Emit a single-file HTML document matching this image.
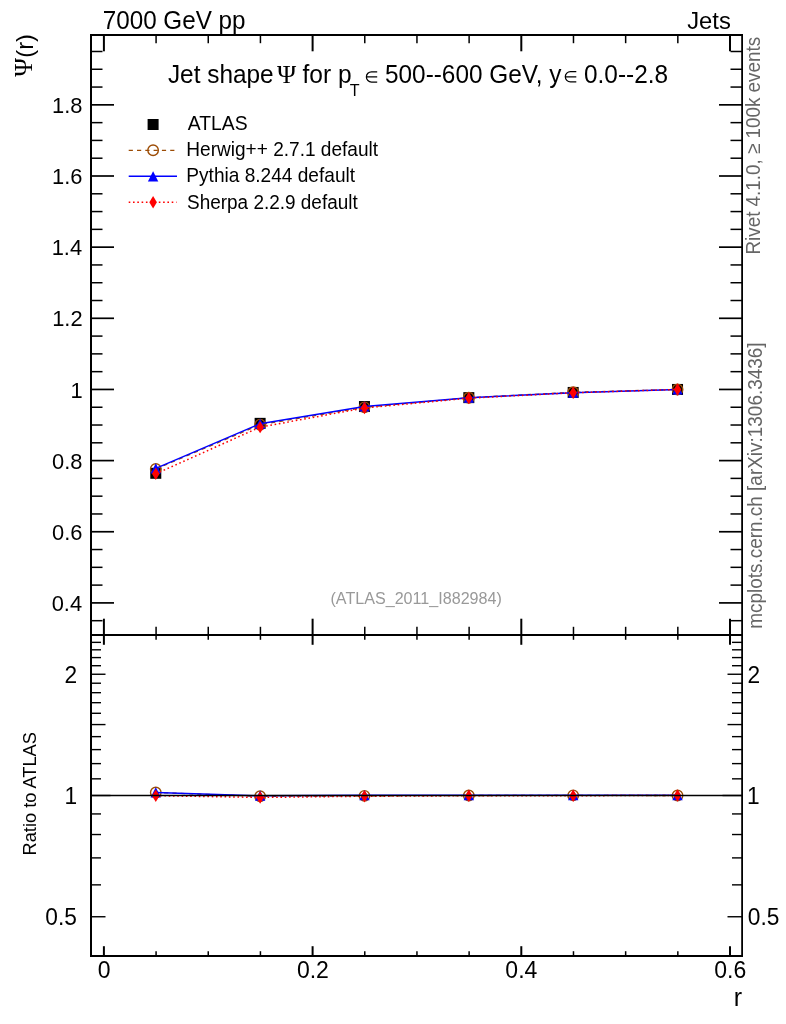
<!DOCTYPE html><html><head><meta charset="utf-8"><title>plot</title><style>html,body{margin:0;padding:0;background:#fff}svg{display:block;will-change:transform}text{font-family:"Liberation Sans",sans-serif}.s{font-family:"Liberation Serif",serif}</style></head><body>
<svg width="786" height="1024" viewBox="0 0 786 1024">
<rect width="786" height="1024" fill="#fff"/>
<line x1="91.00" y1="620.69" x2="102.50" y2="620.69" stroke="#000" stroke-width="1.5" />
<line x1="742.00" y1="620.69" x2="730.50" y2="620.69" stroke="#000" stroke-width="1.5" />
<line x1="91.00" y1="602.90" x2="114.00" y2="602.90" stroke="#000" stroke-width="1.7" />
<line x1="742.00" y1="602.90" x2="719.00" y2="602.90" stroke="#000" stroke-width="1.7" />
<line x1="91.00" y1="585.11" x2="102.50" y2="585.11" stroke="#000" stroke-width="1.5" />
<line x1="742.00" y1="585.11" x2="730.50" y2="585.11" stroke="#000" stroke-width="1.5" />
<line x1="91.00" y1="567.33" x2="102.50" y2="567.33" stroke="#000" stroke-width="1.5" />
<line x1="742.00" y1="567.33" x2="730.50" y2="567.33" stroke="#000" stroke-width="1.5" />
<line x1="91.00" y1="549.54" x2="102.50" y2="549.54" stroke="#000" stroke-width="1.5" />
<line x1="742.00" y1="549.54" x2="730.50" y2="549.54" stroke="#000" stroke-width="1.5" />
<line x1="91.00" y1="531.75" x2="114.00" y2="531.75" stroke="#000" stroke-width="1.7" />
<line x1="742.00" y1="531.75" x2="719.00" y2="531.75" stroke="#000" stroke-width="1.7" />
<line x1="91.00" y1="513.96" x2="102.50" y2="513.96" stroke="#000" stroke-width="1.5" />
<line x1="742.00" y1="513.96" x2="730.50" y2="513.96" stroke="#000" stroke-width="1.5" />
<line x1="91.00" y1="496.17" x2="102.50" y2="496.17" stroke="#000" stroke-width="1.5" />
<line x1="742.00" y1="496.17" x2="730.50" y2="496.17" stroke="#000" stroke-width="1.5" />
<line x1="91.00" y1="478.39" x2="102.50" y2="478.39" stroke="#000" stroke-width="1.5" />
<line x1="742.00" y1="478.39" x2="730.50" y2="478.39" stroke="#000" stroke-width="1.5" />
<line x1="91.00" y1="460.60" x2="114.00" y2="460.60" stroke="#000" stroke-width="1.7" />
<line x1="742.00" y1="460.60" x2="719.00" y2="460.60" stroke="#000" stroke-width="1.7" />
<line x1="91.00" y1="442.81" x2="102.50" y2="442.81" stroke="#000" stroke-width="1.5" />
<line x1="742.00" y1="442.81" x2="730.50" y2="442.81" stroke="#000" stroke-width="1.5" />
<line x1="91.00" y1="425.02" x2="102.50" y2="425.02" stroke="#000" stroke-width="1.5" />
<line x1="742.00" y1="425.02" x2="730.50" y2="425.02" stroke="#000" stroke-width="1.5" />
<line x1="91.00" y1="407.24" x2="102.50" y2="407.24" stroke="#000" stroke-width="1.5" />
<line x1="742.00" y1="407.24" x2="730.50" y2="407.24" stroke="#000" stroke-width="1.5" />
<line x1="91.00" y1="389.45" x2="114.00" y2="389.45" stroke="#000" stroke-width="1.7" />
<line x1="742.00" y1="389.45" x2="719.00" y2="389.45" stroke="#000" stroke-width="1.7" />
<line x1="91.00" y1="371.66" x2="102.50" y2="371.66" stroke="#000" stroke-width="1.5" />
<line x1="742.00" y1="371.66" x2="730.50" y2="371.66" stroke="#000" stroke-width="1.5" />
<line x1="91.00" y1="353.87" x2="102.50" y2="353.87" stroke="#000" stroke-width="1.5" />
<line x1="742.00" y1="353.87" x2="730.50" y2="353.87" stroke="#000" stroke-width="1.5" />
<line x1="91.00" y1="336.09" x2="102.50" y2="336.09" stroke="#000" stroke-width="1.5" />
<line x1="742.00" y1="336.09" x2="730.50" y2="336.09" stroke="#000" stroke-width="1.5" />
<line x1="91.00" y1="318.30" x2="114.00" y2="318.30" stroke="#000" stroke-width="1.7" />
<line x1="742.00" y1="318.30" x2="719.00" y2="318.30" stroke="#000" stroke-width="1.7" />
<line x1="91.00" y1="300.51" x2="102.50" y2="300.51" stroke="#000" stroke-width="1.5" />
<line x1="742.00" y1="300.51" x2="730.50" y2="300.51" stroke="#000" stroke-width="1.5" />
<line x1="91.00" y1="282.72" x2="102.50" y2="282.72" stroke="#000" stroke-width="1.5" />
<line x1="742.00" y1="282.72" x2="730.50" y2="282.72" stroke="#000" stroke-width="1.5" />
<line x1="91.00" y1="264.94" x2="102.50" y2="264.94" stroke="#000" stroke-width="1.5" />
<line x1="742.00" y1="264.94" x2="730.50" y2="264.94" stroke="#000" stroke-width="1.5" />
<line x1="91.00" y1="247.15" x2="114.00" y2="247.15" stroke="#000" stroke-width="1.7" />
<line x1="742.00" y1="247.15" x2="719.00" y2="247.15" stroke="#000" stroke-width="1.7" />
<line x1="91.00" y1="229.36" x2="102.50" y2="229.36" stroke="#000" stroke-width="1.5" />
<line x1="742.00" y1="229.36" x2="730.50" y2="229.36" stroke="#000" stroke-width="1.5" />
<line x1="91.00" y1="211.57" x2="102.50" y2="211.57" stroke="#000" stroke-width="1.5" />
<line x1="742.00" y1="211.57" x2="730.50" y2="211.57" stroke="#000" stroke-width="1.5" />
<line x1="91.00" y1="193.79" x2="102.50" y2="193.79" stroke="#000" stroke-width="1.5" />
<line x1="742.00" y1="193.79" x2="730.50" y2="193.79" stroke="#000" stroke-width="1.5" />
<line x1="91.00" y1="176.00" x2="114.00" y2="176.00" stroke="#000" stroke-width="1.7" />
<line x1="742.00" y1="176.00" x2="719.00" y2="176.00" stroke="#000" stroke-width="1.7" />
<line x1="91.00" y1="158.21" x2="102.50" y2="158.21" stroke="#000" stroke-width="1.5" />
<line x1="742.00" y1="158.21" x2="730.50" y2="158.21" stroke="#000" stroke-width="1.5" />
<line x1="91.00" y1="140.42" x2="102.50" y2="140.42" stroke="#000" stroke-width="1.5" />
<line x1="742.00" y1="140.42" x2="730.50" y2="140.42" stroke="#000" stroke-width="1.5" />
<line x1="91.00" y1="122.64" x2="102.50" y2="122.64" stroke="#000" stroke-width="1.5" />
<line x1="742.00" y1="122.64" x2="730.50" y2="122.64" stroke="#000" stroke-width="1.5" />
<line x1="91.00" y1="104.85" x2="114.00" y2="104.85" stroke="#000" stroke-width="1.7" />
<line x1="742.00" y1="104.85" x2="719.00" y2="104.85" stroke="#000" stroke-width="1.7" />
<line x1="91.00" y1="87.06" x2="102.50" y2="87.06" stroke="#000" stroke-width="1.5" />
<line x1="742.00" y1="87.06" x2="730.50" y2="87.06" stroke="#000" stroke-width="1.5" />
<line x1="91.00" y1="69.27" x2="102.50" y2="69.27" stroke="#000" stroke-width="1.5" />
<line x1="742.00" y1="69.27" x2="730.50" y2="69.27" stroke="#000" stroke-width="1.5" />
<line x1="91.00" y1="51.49" x2="102.50" y2="51.49" stroke="#000" stroke-width="1.5" />
<line x1="742.00" y1="51.49" x2="730.50" y2="51.49" stroke="#000" stroke-width="1.5" />
<line x1="103.90" y1="35.00" x2="103.90" y2="51.30" stroke="#000" stroke-width="2.0" />
<line x1="103.90" y1="635.00" x2="103.90" y2="618.70" stroke="#000" stroke-width="2.0" />
<line x1="103.90" y1="635.00" x2="103.90" y2="644.80" stroke="#000" stroke-width="2.0" />
<line x1="103.90" y1="956.00" x2="103.90" y2="946.20" stroke="#000" stroke-width="2.0" />
<line x1="156.08" y1="35.00" x2="156.08" y2="43.20" stroke="#000" stroke-width="1.5" />
<line x1="156.08" y1="635.00" x2="156.08" y2="626.80" stroke="#000" stroke-width="1.5" />
<line x1="156.08" y1="635.00" x2="156.08" y2="639.80" stroke="#000" stroke-width="1.5" />
<line x1="156.08" y1="956.00" x2="156.08" y2="951.20" stroke="#000" stroke-width="1.5" />
<line x1="208.25" y1="35.00" x2="208.25" y2="43.20" stroke="#000" stroke-width="1.5" />
<line x1="208.25" y1="635.00" x2="208.25" y2="626.80" stroke="#000" stroke-width="1.5" />
<line x1="208.25" y1="635.00" x2="208.25" y2="639.80" stroke="#000" stroke-width="1.5" />
<line x1="208.25" y1="956.00" x2="208.25" y2="951.20" stroke="#000" stroke-width="1.5" />
<line x1="260.43" y1="35.00" x2="260.43" y2="43.20" stroke="#000" stroke-width="1.5" />
<line x1="260.43" y1="635.00" x2="260.43" y2="626.80" stroke="#000" stroke-width="1.5" />
<line x1="260.43" y1="635.00" x2="260.43" y2="639.80" stroke="#000" stroke-width="1.5" />
<line x1="260.43" y1="956.00" x2="260.43" y2="951.20" stroke="#000" stroke-width="1.5" />
<line x1="312.60" y1="35.00" x2="312.60" y2="51.30" stroke="#000" stroke-width="2.0" />
<line x1="312.60" y1="635.00" x2="312.60" y2="618.70" stroke="#000" stroke-width="2.0" />
<line x1="312.60" y1="635.00" x2="312.60" y2="644.80" stroke="#000" stroke-width="2.0" />
<line x1="312.60" y1="956.00" x2="312.60" y2="946.20" stroke="#000" stroke-width="2.0" />
<line x1="364.77" y1="35.00" x2="364.77" y2="43.20" stroke="#000" stroke-width="1.5" />
<line x1="364.77" y1="635.00" x2="364.77" y2="626.80" stroke="#000" stroke-width="1.5" />
<line x1="364.77" y1="635.00" x2="364.77" y2="639.80" stroke="#000" stroke-width="1.5" />
<line x1="364.77" y1="956.00" x2="364.77" y2="951.20" stroke="#000" stroke-width="1.5" />
<line x1="416.95" y1="35.00" x2="416.95" y2="43.20" stroke="#000" stroke-width="1.5" />
<line x1="416.95" y1="635.00" x2="416.95" y2="626.80" stroke="#000" stroke-width="1.5" />
<line x1="416.95" y1="635.00" x2="416.95" y2="639.80" stroke="#000" stroke-width="1.5" />
<line x1="416.95" y1="956.00" x2="416.95" y2="951.20" stroke="#000" stroke-width="1.5" />
<line x1="469.12" y1="35.00" x2="469.12" y2="43.20" stroke="#000" stroke-width="1.5" />
<line x1="469.12" y1="635.00" x2="469.12" y2="626.80" stroke="#000" stroke-width="1.5" />
<line x1="469.12" y1="635.00" x2="469.12" y2="639.80" stroke="#000" stroke-width="1.5" />
<line x1="469.12" y1="956.00" x2="469.12" y2="951.20" stroke="#000" stroke-width="1.5" />
<line x1="521.30" y1="35.00" x2="521.30" y2="51.30" stroke="#000" stroke-width="2.0" />
<line x1="521.30" y1="635.00" x2="521.30" y2="618.70" stroke="#000" stroke-width="2.0" />
<line x1="521.30" y1="635.00" x2="521.30" y2="644.80" stroke="#000" stroke-width="2.0" />
<line x1="521.30" y1="956.00" x2="521.30" y2="946.20" stroke="#000" stroke-width="2.0" />
<line x1="573.48" y1="35.00" x2="573.48" y2="43.20" stroke="#000" stroke-width="1.5" />
<line x1="573.48" y1="635.00" x2="573.48" y2="626.80" stroke="#000" stroke-width="1.5" />
<line x1="573.48" y1="635.00" x2="573.48" y2="639.80" stroke="#000" stroke-width="1.5" />
<line x1="573.48" y1="956.00" x2="573.48" y2="951.20" stroke="#000" stroke-width="1.5" />
<line x1="625.65" y1="35.00" x2="625.65" y2="43.20" stroke="#000" stroke-width="1.5" />
<line x1="625.65" y1="635.00" x2="625.65" y2="626.80" stroke="#000" stroke-width="1.5" />
<line x1="625.65" y1="635.00" x2="625.65" y2="639.80" stroke="#000" stroke-width="1.5" />
<line x1="625.65" y1="956.00" x2="625.65" y2="951.20" stroke="#000" stroke-width="1.5" />
<line x1="677.83" y1="35.00" x2="677.83" y2="43.20" stroke="#000" stroke-width="1.5" />
<line x1="677.83" y1="635.00" x2="677.83" y2="626.80" stroke="#000" stroke-width="1.5" />
<line x1="677.83" y1="635.00" x2="677.83" y2="639.80" stroke="#000" stroke-width="1.5" />
<line x1="677.83" y1="956.00" x2="677.83" y2="951.20" stroke="#000" stroke-width="1.5" />
<line x1="730.00" y1="35.00" x2="730.00" y2="51.30" stroke="#000" stroke-width="2.0" />
<line x1="730.00" y1="635.00" x2="730.00" y2="618.70" stroke="#000" stroke-width="2.0" />
<line x1="730.00" y1="635.00" x2="730.00" y2="644.80" stroke="#000" stroke-width="2.0" />
<line x1="730.00" y1="956.00" x2="730.00" y2="946.20" stroke="#000" stroke-width="2.0" />
<line x1="91.00" y1="916.75" x2="105.50" y2="916.75" stroke="#000" stroke-width="1.4" />
<line x1="742.00" y1="916.75" x2="727.50" y2="916.75" stroke="#000" stroke-width="1.4" />
<line x1="91.00" y1="884.86" x2="101.00" y2="884.86" stroke="#000" stroke-width="1.4" />
<line x1="742.00" y1="884.86" x2="732.00" y2="884.86" stroke="#000" stroke-width="1.4" />
<line x1="91.00" y1="857.89" x2="101.00" y2="857.89" stroke="#000" stroke-width="1.4" />
<line x1="742.00" y1="857.89" x2="732.00" y2="857.89" stroke="#000" stroke-width="1.4" />
<line x1="91.00" y1="834.53" x2="101.00" y2="834.53" stroke="#000" stroke-width="1.4" />
<line x1="742.00" y1="834.53" x2="732.00" y2="834.53" stroke="#000" stroke-width="1.4" />
<line x1="91.00" y1="813.93" x2="101.00" y2="813.93" stroke="#000" stroke-width="1.4" />
<line x1="742.00" y1="813.93" x2="732.00" y2="813.93" stroke="#000" stroke-width="1.4" />
<line x1="91.00" y1="795.50" x2="110.50" y2="795.50" stroke="#000" stroke-width="1.4" />
<line x1="742.00" y1="795.50" x2="722.50" y2="795.50" stroke="#000" stroke-width="1.4" />
<line x1="91.00" y1="778.83" x2="101.00" y2="778.83" stroke="#000" stroke-width="1.4" />
<line x1="742.00" y1="778.83" x2="732.00" y2="778.83" stroke="#000" stroke-width="1.4" />
<line x1="91.00" y1="763.61" x2="101.00" y2="763.61" stroke="#000" stroke-width="1.4" />
<line x1="742.00" y1="763.61" x2="732.00" y2="763.61" stroke="#000" stroke-width="1.4" />
<line x1="91.00" y1="749.61" x2="101.00" y2="749.61" stroke="#000" stroke-width="1.4" />
<line x1="742.00" y1="749.61" x2="732.00" y2="749.61" stroke="#000" stroke-width="1.4" />
<line x1="91.00" y1="736.64" x2="101.00" y2="736.64" stroke="#000" stroke-width="1.4" />
<line x1="742.00" y1="736.64" x2="732.00" y2="736.64" stroke="#000" stroke-width="1.4" />
<line x1="91.00" y1="724.57" x2="105.50" y2="724.57" stroke="#000" stroke-width="1.4" />
<line x1="742.00" y1="724.57" x2="727.50" y2="724.57" stroke="#000" stroke-width="1.4" />
<line x1="91.00" y1="713.28" x2="101.00" y2="713.28" stroke="#000" stroke-width="1.4" />
<line x1="742.00" y1="713.28" x2="732.00" y2="713.28" stroke="#000" stroke-width="1.4" />
<line x1="91.00" y1="702.68" x2="101.00" y2="702.68" stroke="#000" stroke-width="1.4" />
<line x1="742.00" y1="702.68" x2="732.00" y2="702.68" stroke="#000" stroke-width="1.4" />
<line x1="91.00" y1="692.68" x2="101.00" y2="692.68" stroke="#000" stroke-width="1.4" />
<line x1="742.00" y1="692.68" x2="732.00" y2="692.68" stroke="#000" stroke-width="1.4" />
<line x1="91.00" y1="683.22" x2="101.00" y2="683.22" stroke="#000" stroke-width="1.4" />
<line x1="742.00" y1="683.22" x2="732.00" y2="683.22" stroke="#000" stroke-width="1.4" />
<line x1="91.00" y1="674.25" x2="105.50" y2="674.25" stroke="#000" stroke-width="1.4" />
<line x1="742.00" y1="674.25" x2="727.50" y2="674.25" stroke="#000" stroke-width="1.4" />
<line x1="91.00" y1="665.72" x2="101.00" y2="665.72" stroke="#000" stroke-width="1.4" />
<line x1="742.00" y1="665.72" x2="732.00" y2="665.72" stroke="#000" stroke-width="1.4" />
<line x1="91.00" y1="657.58" x2="101.00" y2="657.58" stroke="#000" stroke-width="1.4" />
<line x1="742.00" y1="657.58" x2="732.00" y2="657.58" stroke="#000" stroke-width="1.4" />
<line x1="91.00" y1="649.80" x2="101.00" y2="649.80" stroke="#000" stroke-width="1.4" />
<line x1="742.00" y1="649.80" x2="732.00" y2="649.80" stroke="#000" stroke-width="1.4" />
<line x1="91.00" y1="642.36" x2="101.00" y2="642.36" stroke="#000" stroke-width="1.4" />
<line x1="742.00" y1="642.36" x2="732.00" y2="642.36" stroke="#000" stroke-width="1.4" />
<rect x="150.28" y="467.80" width="11" height="11" fill="#000"/>
<rect x="254.62" y="417.85" width="11" height="11" fill="#000"/>
<rect x="358.97" y="401.03" width="11" height="11" fill="#000"/>
<rect x="463.32" y="392.13" width="11" height="11" fill="#000"/>
<rect x="567.68" y="386.94" width="11" height="11" fill="#000"/>
<rect x="672.03" y="383.95" width="11" height="11" fill="#000"/>
<polyline points="155.78,469.00 260.12,424.67 364.47,407.34 468.82,397.74 573.18,392.30 677.53,389.45" fill="none" stroke="#9c4c05" stroke-width="1.3" stroke-dasharray="4.2 4.1"/>
<circle cx="155.78" cy="469.00" r="5.25" fill="none" stroke="#9c4c05" stroke-width="1.4"/>
<circle cx="260.12" cy="424.67" r="5.25" fill="none" stroke="#9c4c05" stroke-width="1.4"/>
<circle cx="364.47" cy="407.34" r="5.25" fill="none" stroke="#9c4c05" stroke-width="1.4"/>
<circle cx="468.82" cy="397.74" r="5.25" fill="none" stroke="#9c4c05" stroke-width="1.4"/>
<circle cx="573.18" cy="392.30" r="5.25" fill="none" stroke="#9c4c05" stroke-width="1.4"/>
<circle cx="677.53" cy="389.45" r="5.25" fill="none" stroke="#9c4c05" stroke-width="1.4"/>
<polyline points="155.78,468.43 260.12,423.78 364.47,406.45 468.82,397.63 573.18,392.65 677.53,389.45" fill="none" stroke="#00f" stroke-width="1.5" />
<polygon points="155.78,463.23 150.58,473.53 160.97,473.53" fill="#00f"/>
<polygon points="260.12,418.58 254.93,428.88 265.32,428.88" fill="#00f"/>
<polygon points="364.47,401.25 359.27,411.55 369.67,411.55" fill="#00f"/>
<polygon points="468.82,392.43 463.62,402.73 474.02,402.73" fill="#00f"/>
<polygon points="573.18,387.45 567.98,397.75 578.38,397.75" fill="#00f"/>
<polygon points="677.53,384.25 672.33,394.55 682.73,394.55" fill="#00f"/>
<polyline points="155.78,473.76 260.12,427.16 364.47,407.95 468.82,398.17 573.18,392.76 677.53,389.45" fill="none" stroke="#f00" stroke-width="1.5" stroke-dasharray="1.6 2.7"/>
<polygon points="155.78,467.56 159.58,473.76 155.78,479.96 151.97,473.76" fill="#f00"/>
<polygon points="260.12,420.96 263.93,427.16 260.12,433.36 256.32,427.16" fill="#f00"/>
<polygon points="364.47,401.75 368.27,407.95 364.47,414.15 360.67,407.95" fill="#f00"/>
<polygon points="468.82,391.97 472.62,398.17 468.82,404.37 465.02,398.17" fill="#f00"/>
<polygon points="573.18,386.56 576.98,392.76 573.18,398.96 569.38,392.76" fill="#f00"/>
<polygon points="677.53,383.25 681.33,389.45 677.53,395.65 673.73,389.45" fill="#f00"/>
<polyline points="155.78,792.50 260.12,796.31 364.47,795.85 468.82,795.50 573.18,795.41 677.53,795.50" fill="none" stroke="#9c4c05" stroke-width="1.3" stroke-dasharray="4.2 4.1"/>
<circle cx="155.78" cy="792.50" r="5.25" fill="none" stroke="#9c4c05" stroke-width="1.4"/>
<circle cx="260.12" cy="796.31" r="5.25" fill="none" stroke="#9c4c05" stroke-width="1.4"/>
<circle cx="364.47" cy="795.85" r="5.25" fill="none" stroke="#9c4c05" stroke-width="1.4"/>
<circle cx="468.82" cy="795.50" r="5.25" fill="none" stroke="#9c4c05" stroke-width="1.4"/>
<circle cx="573.18" cy="795.41" r="5.25" fill="none" stroke="#9c4c05" stroke-width="1.4"/>
<circle cx="677.53" cy="795.50" r="5.25" fill="none" stroke="#9c4c05" stroke-width="1.4"/>
<polyline points="155.78,792.50 260.12,795.76 364.47,795.15 468.82,795.15 573.18,795.15 677.53,795.15" fill="none" stroke="#00f" stroke-width="1.5" />
<polygon points="155.78,787.30 150.58,797.60 160.97,797.60" fill="#00f"/>
<polygon points="260.12,790.56 254.93,800.86 265.32,800.86" fill="#00f"/>
<polygon points="364.47,789.95 359.27,800.25 369.67,800.25" fill="#00f"/>
<polygon points="468.82,789.95 463.62,800.25 474.02,800.25" fill="#00f"/>
<polygon points="573.18,789.95 567.98,800.25 578.38,800.25" fill="#00f"/>
<polygon points="677.53,789.95 672.33,800.25 682.73,800.25" fill="#00f"/>
<polyline points="155.78,795.68 260.12,797.43 364.47,796.24 468.82,795.76 573.18,795.68 677.53,795.50" fill="none" stroke="#f00" stroke-width="1.5" stroke-dasharray="1.6 2.7"/>
<polygon points="155.78,789.48 159.58,795.68 155.78,801.88 151.97,795.68" fill="#f00"/>
<polygon points="260.12,791.23 263.93,797.43 260.12,803.63 256.32,797.43" fill="#f00"/>
<polygon points="364.47,790.04 368.27,796.24 364.47,802.44 360.67,796.24" fill="#f00"/>
<polygon points="468.82,789.56 472.62,795.76 468.82,801.96 465.02,795.76" fill="#f00"/>
<polygon points="573.18,789.48 576.98,795.68 573.18,801.88 569.38,795.68" fill="#f00"/>
<polygon points="677.53,789.30 681.33,795.50 677.53,801.70 673.73,795.50" fill="#f00"/>
<line x1="91.00" y1="795.50" x2="742.00" y2="795.50" stroke="#000" stroke-width="1.3" />
<line x1="91.00" y1="34.00" x2="91.00" y2="957.00" stroke="#000" stroke-width="2" />
<line x1="742.10" y1="34.00" x2="742.10" y2="957.00" stroke="#000" stroke-width="1.8" />
<line x1="91.00" y1="35.00" x2="742.00" y2="35.00" stroke="#000" stroke-width="2" />
<line x1="91.00" y1="956.00" x2="742.00" y2="956.00" stroke="#000" stroke-width="2" />
<line x1="91.00" y1="635.00" x2="742.00" y2="635.00" stroke="#000" stroke-width="2" />
<rect x="147.60" y="119.00" width="11" height="11" fill="#000"/>
<line x1="128.70" y1="150.30" x2="175.00" y2="150.30" stroke="#9c4c05" stroke-width="1.2" stroke-dasharray="4.2 4.1"/>
<circle cx="153.10" cy="150.20" r="5.25" fill="none" stroke="#9c4c05" stroke-width="1.4"/>
<line x1="128.70" y1="176.30" x2="177.00" y2="176.30" stroke="#00f" stroke-width="1.5" />
<polygon points="153.10,171.25 147.90,181.55 158.30,181.55" fill="#00f"/>
<line x1="128.70" y1="202.20" x2="176.50" y2="202.20" stroke="#f00" stroke-width="1.5" stroke-dasharray="1.6 2.7"/>
<polygon points="153.10,196.10 156.90,202.30 153.10,208.50 149.30,202.30" fill="#f00"/>
<text transform="translate(187.85,129.60) scale(0.98,1)" font-size="19.74" text-anchor="start" fill="#000">ATLAS</text>
<text transform="translate(186.33,156.30) scale(0.98,1)" font-size="19.45" text-anchor="start" fill="#000">Herwig++ 2.7.1 default</text>
<text transform="translate(186.32,182.30) scale(0.98,1)" font-size="19.49" text-anchor="start" fill="#000">Pythia 8.244 default</text>
<text transform="translate(187.05,208.50) scale(0.98,1)" font-size="19.35" text-anchor="start" fill="#000">Sherpa 2.2.9 default</text>
<text transform="translate(102.73,28.60) scale(0.975,1)" font-size="24.85" text-anchor="start" fill="#000">7000 GeV pp</text>
<text transform="translate(687.14,28.60) scale(0.975,1)" font-size="24.42" text-anchor="start" fill="#000">Jets</text>
<text transform="translate(167.93,83.00) scale(0.975,1)" font-size="25.01" text-anchor="start" fill="#000">Jet shape</text>
<text x="277.04" y="83.00" font-size="25.94" text-anchor="start" fill="#000" class="s">Ψ</text>
<text transform="translate(302.53,83.00) scale(0.975,1)" font-size="25.18" text-anchor="start" fill="#000">for p</text>
<text x="349.84" y="95.60" font-size="16.11" text-anchor="start" fill="#000">T</text>
<text transform="translate(385.03,83.00) scale(0.975,1)" font-size="24.99" text-anchor="start" fill="#000">500--600 GeV, y</text>
<text transform="translate(584.02,83.00) scale(0.975,1)" font-size="25.01" text-anchor="start" fill="#000">0.0--2.8</text>
<path d="M377.20,71.80 H371.50 A5.10,5.10 0 0 0 371.50,82.00 H377.20 M366.40,76.90 H377.20" fill="none" stroke="#000" stroke-width="1.25"/>
<path d="M576.30,71.60 H570.45 A5.15,5.15 0 0 0 570.45,81.90 H576.30 M565.30,76.75 H576.30" fill="none" stroke="#000" stroke-width="1.25"/>
<text transform="translate(82.43,112.95) scale(0.96,1)" font-size="22.80" text-anchor="end" fill="#000">1.8</text>
<text transform="translate(82.43,184.10) scale(0.96,1)" font-size="22.80" text-anchor="end" fill="#000">1.6</text>
<text transform="translate(82.11,255.25) scale(0.96,1)" font-size="22.80" text-anchor="end" fill="#000">1.4</text>
<text transform="translate(82.60,326.40) scale(0.96,1)" font-size="22.80" text-anchor="end" fill="#000">1.2</text>
<text transform="translate(82.57,397.55) scale(0.96,1)" font-size="22.80" text-anchor="end" fill="#000">1</text>
<text transform="translate(82.43,468.70) scale(0.96,1)" font-size="22.80" text-anchor="end" fill="#000">0.8</text>
<text transform="translate(82.43,539.85) scale(0.96,1)" font-size="22.80" text-anchor="end" fill="#000">0.6</text>
<text transform="translate(82.11,611.00) scale(0.96,1)" font-size="22.80" text-anchor="end" fill="#000">0.4</text>
<text transform="translate(77.16,682.65) scale(0.98,1)" font-size="23.20" text-anchor="end" fill="#000">2</text>
<text transform="translate(747.61,682.65) scale(0.98,1)" font-size="23.20" text-anchor="start" fill="#000">2</text>
<text transform="translate(77.11,803.90) scale(0.98,1)" font-size="23.20" text-anchor="end" fill="#000">1</text>
<text transform="translate(747.04,803.90) scale(0.98,1)" font-size="23.20" text-anchor="start" fill="#000">1</text>
<text transform="translate(76.91,925.15) scale(0.98,1)" font-size="23.20" text-anchor="end" fill="#000">0.5</text>
<text transform="translate(747.84,925.15) scale(0.98,1)" font-size="23.20" text-anchor="start" fill="#000">0.5</text>
<text transform="translate(97.69,977.90) scale(0.975,1)" font-size="23.60" text-anchor="start" fill="#000">0</text>
<text transform="translate(296.92,977.90) scale(0.975,1)" font-size="23.60" text-anchor="start" fill="#000">0.2</text>
<text transform="translate(505.36,977.90) scale(0.975,1)" font-size="23.60" text-anchor="start" fill="#000">0.4</text>
<text transform="translate(714.24,977.90) scale(0.975,1)" font-size="23.60" text-anchor="start" fill="#000">0.6</text>
<text x="742.14" y="1006.00" font-size="25.00" text-anchor="end" fill="#000">r</text>
<text transform="translate(31.90,76.86) rotate(-90)" font-size="25.53" fill="#000" class="s">Ψ</text>
<text transform="translate(32.80,57.68) rotate(-90)" font-size="23.72" fill="#000">(r)</text>
<text transform="translate(36.40,855.51) rotate(-90)" font-size="18.26" fill="#000">Ratio to ATLAS</text>
<text transform="translate(760.00,254.55) rotate(-90) scale(0.935,1)" font-size="20.15" fill="#666">Rivet 4.1.0, ≥ 100k events</text>
<text transform="translate(762.00,628.78) rotate(-90) scale(0.935,1)" font-size="20.26" fill="#666">mcplots.cern.ch [arXiv:1306.3436]</text>
<text x="330.49" y="603.60" font-size="16.12" text-anchor="start" fill="#999">(ATLAS_2011_I882984)</text>
</svg></body></html>
